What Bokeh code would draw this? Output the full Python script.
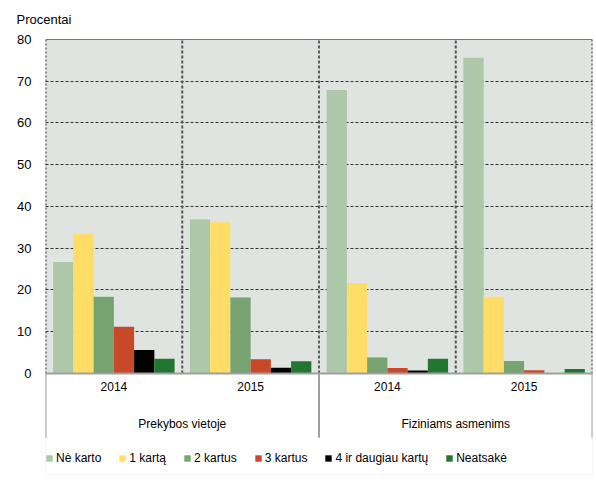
from bokeh.plotting import figure
from bokeh.models import (ColumnDataSource, FactorRange, Range1d, FixedTicker, Span,
                          Legend, LegendItem, BoxAnnotation)
from bokeh.transform import dodge
from bokeh.core.properties import value
from bokeh.embed import file_html
from bokeh.resources import INLINE

# ---- data ----
groups = ["Prekybos vietoje", "Fiziniams asmenims"]
years = ["2014", "2015"]
series_names = ["Nė karto", "1 kartą", "2 kartus", "3 kartus", "4 ir daugiau kartų", "Neatsakė"]
ne_karto = [26.7, 36.9, 67.9, 75.6]
kartu_1 = [33.5, 36.2, 21.7, 18.4]
kartus_2 = [18.4, 18.2, 3.8, 3.0]
kartus_3 = [11.2, 3.4, 1.3, 0.8]
kartu_4 = [5.6, 1.4, 0.7, 0.0]
neatsake = [3.5, 2.9, 3.5, 1.1]
y_ticks = [0, 10, 20, 30, 40, 50, 60, 70, 80]
y_title = "Procentai"

colors = ["#ACC8A8", "#FFDD66", "#76A36F", "#C84827", "#000000", "#237631"]
series = [ne_karto, kartu_1, kartus_2, kartus_3, kartu_4, neatsake]

FONT = "Liberation Sans"
factors = [(g, y) for g in groups for y in years]

src = ColumnDataSource(dict(
    f=factors,
    **{f"s{i}": s for i, s in enumerate(series)},
))

ymin, ymax = y_ticks[0], y_ticks[-1]
axis_depth = 15.4     # category-label band below zero (data units)
legend_depth = 8.8    # legend band below the label band

p = figure(
    x_range=FactorRange(*factors, range_padding=0, group_padding=0, factor_padding=0),
    y_range=Range1d(ymin - axis_depth - legend_depth, ymax),
    width=596, height=482,
    min_border_left=45, min_border_right=4, min_border_top=39, min_border_bottom=8,
    output_backend="svg", toolbar_location=None, x_axis_location=None,
)
p.background_fill_color = "#E0E4E0"
p.border_fill_color = "white"
p.outline_line_color = None

# title
p.title.text = y_title
p.title.align = "left"
p.title.offset = -29
p.title.vertical_align = "top"
p.title.standoff = 22
p.title.text_font = FONT
p.title.text_font_size = "13px"
p.title.text_font_style = "normal"
p.title.text_color = "#000000"

# y axis
p.yaxis.ticker = FixedTicker(ticks=y_ticks)
p.yaxis.axis_line_color = None
p.yaxis.major_tick_line_color = None
p.yaxis.minor_tick_line_color = None
p.yaxis.major_tick_out = 0
p.yaxis.major_tick_in = 0
p.yaxis.major_label_standoff = 14
p.yaxis.major_label_text_font = FONT
p.yaxis.major_label_text_font_size = "13px"
p.yaxis.major_label_text_color = "#000000"

p.xgrid.visible = False
p.ygrid.ticker = FixedTicker(ticks=y_ticks[1:-1])
p.ygrid.grid_line_color = "#333333"
p.ygrid.grid_line_dash = "3 2"
p.ygrid.grid_line_width = 1

# white band below zero (category labels + legend)
p.add_layout(BoxAnnotation(top=ymin, fill_color="white", fill_alpha=1, line_color=None, level="underlay"))

# vertical boundary lines in the plot area
edge_src = ColumnDataSource(dict(f=[factors[0]], y0=[ymin], y1=[ymax]))
p.segment(x0=dodge("f", -0.5, range=p.x_range), x1=dodge("f", -0.5, range=p.x_range),
          y0="y0", y1="y1", source=edge_src, line_color="#333333", line_width=2, line_dash="2 2")
redge_src = ColumnDataSource(dict(f=[factors[-1]], y0=[ymin], y1=[ymax]))
p.segment(x0=dodge("f", 0.5, range=p.x_range), x1=dodge("f", 0.5, range=p.x_range),
          y0="y0", y1="y1", source=redge_src, line_color="#333333", line_width=2, line_dash="2 2")
# boundaries between years inside each group
ysrc = ColumnDataSource(dict(f=[factors[1], factors[3]], y0=[ymin] * 2, y1=[ymax] * 2))
p.segment(x0=dodge("f", -0.5, range=p.x_range), x1=dodge("f", -0.5, range=p.x_range),
          y0="y0", y1="y1", source=ysrc, line_color="#555555", line_width=2, line_dash="3 2")
# boundary between the two groups
gsrc = ColumnDataSource(dict(f=[factors[2]], y0=[ymin], y1=[ymax]))
p.segment(x0=dodge("f", -0.5, range=p.x_range), x1=dodge("f", -0.5, range=p.x_range),
          y0="y0", y1="y1", source=gsrc, line_color="#000000", line_width=1.2, line_dash="3 2")

# bars
n = len(series)
bw = 0.148
offsets = [(i - (n - 1) / 2) * bw for i in range(n)]
renderers = []
for i in range(n):
    r = p.vbar(x=dodge("f", offsets[i], range=p.x_range), top=f"s{i}", bottom=ymin, width=bw,
               source=src, fill_color=colors[i], line_color=None)
    renderers.append(r)

# top frame line and category axis line
p.add_layout(Span(location=ymax, dimension="width", line_color="#000000", line_width=1))
p.add_layout(Span(location=ymin, dimension="width", line_color="#A0A0A0", line_width=2))

# gray separators in the category band
sep_src = ColumnDataSource(dict(f=[factors[0], factors[2]], y0=[ymin] * 2, y1=[ymin - axis_depth] * 2))
p.segment(x0=dodge("f", -0.5, range=p.x_range), x1=dodge("f", -0.5, range=p.x_range),
          y0="y0", y1="y1", source=sep_src, line_color="#A0A0A0", line_width=2)
sep2_src = ColumnDataSource(dict(f=[factors[-1]], y0=[ymin], y1=[ymin - axis_depth]))
p.segment(x0=dodge("f", 0.5, range=p.x_range), x1=dodge("f", 0.5, range=p.x_range),
          y0="y0", y1="y1", source=sep2_src, line_color="#A0A0A0", line_width=2)

# category labels
ylab_src = ColumnDataSource(dict(f=factors, t=[y for g in groups for y in years],
                                 y=[ymin - 3.1] * 4))
p.text(x="f", y="y", text="t", source=ylab_src, text_align="center", text_baseline="middle",
       text_font=value(FONT), text_font_size="12px", text_color="#000000")
glab_src = ColumnDataSource(dict(g=groups, t=groups, y=[ymin - 12.0] * 2))
p.text(x="g", y="y", text="t", source=glab_src, text_align="center", text_baseline="middle",
       text_font=value(FONT), text_font_size="12px", text_color="#000000")

legend = Legend(
    items=[LegendItem(label=series_names[i], renderers=[renderers[i]]) for i in range(n)],
    orientation="horizontal", location=(0, 9),
    glyph_width=8, glyph_height=8, label_standoff=3, spacing=17, padding=0, margin=0,
    label_height=14, label_text_font=FONT, label_text_font_size="12px",
    label_text_color="#000000", border_line_color=None, background_fill_alpha=0,
)
p.add_layout(legend)

open("out.html", "w").write(file_html(p, INLINE))
